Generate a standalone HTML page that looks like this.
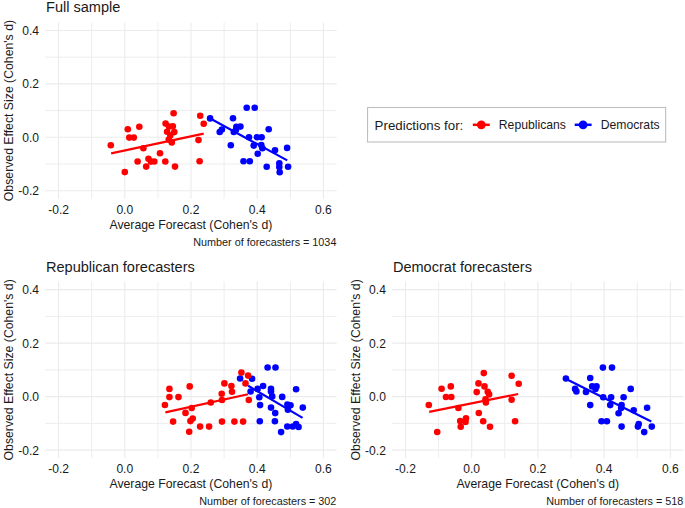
<!DOCTYPE html>
<html><head><meta charset="utf-8"><title>Forecast vs observed effect sizes</title><style>
html,body{margin:0;padding:0;background:#fff;width:685px;height:508px;overflow:hidden;}
svg{display:block;}
text{font-family:"Liberation Sans", sans-serif;fill:#1a1a1a;}
.g{stroke:#EBEBEB;stroke-width:1.1;}
.gm{stroke:#EBEBEB;stroke-width:0.9;}
.tk{font-size:12.1px;}
.at{font-size:12.26px;}
.tt{font-size:14.55px;}
.cp{font-size:10.8px;}
.lt{font-size:13.3px;}
.ll{font-size:12.2px;}
</style></head><body>
<svg width="685" height="508" viewBox="0 0 685 508">
<rect width="685" height="508" fill="#fff"/>
<line x1="45.20" x2="336.60" y1="163.98" y2="163.98" class="gm"/>
<line x1="45.20" x2="336.60" y1="110.56" y2="110.56" class="gm"/>
<line x1="45.20" x2="336.60" y1="57.14" y2="57.14" class="gm"/>
<line x1="91.69" x2="91.69" y1="22.43" y2="198.70" class="gm"/>
<line x1="157.91" x2="157.91" y1="22.43" y2="198.70" class="gm"/>
<line x1="224.12" x2="224.12" y1="22.43" y2="198.70" class="gm"/>
<line x1="290.33" x2="290.33" y1="22.43" y2="198.70" class="gm"/>
<line x1="45.20" x2="336.60" y1="190.69" y2="190.69" class="g"/>
<line x1="45.20" x2="336.60" y1="137.27" y2="137.27" class="g"/>
<line x1="45.20" x2="336.60" y1="83.85" y2="83.85" class="g"/>
<line x1="45.20" x2="336.60" y1="30.43" y2="30.43" class="g"/>
<line x1="58.59" x2="58.59" y1="22.43" y2="198.70" class="g"/>
<line x1="124.80" x2="124.80" y1="22.43" y2="198.70" class="g"/>
<line x1="191.01" x2="191.01" y1="22.43" y2="198.70" class="g"/>
<line x1="257.22" x2="257.22" y1="22.43" y2="198.70" class="g"/>
<line x1="323.44" x2="323.44" y1="22.43" y2="198.70" class="g"/>
<text x="39.00" y="34.93" class="tk" text-anchor="end">0.4</text>
<text x="39.00" y="88.35" class="tk" text-anchor="end">0.2</text>
<text x="39.00" y="141.77" class="tk" text-anchor="end">0.0</text>
<text x="39.00" y="195.19" class="tk" text-anchor="end">-0.2</text>
<text x="58.59" y="213.60" class="tk" text-anchor="middle">-0.2</text>
<text x="124.80" y="213.60" class="tk" text-anchor="middle">0.0</text>
<text x="191.01" y="213.60" class="tk" text-anchor="middle">0.2</text>
<text x="257.22" y="213.60" class="tk" text-anchor="middle">0.4</text>
<text x="323.44" y="213.60" class="tk" text-anchor="middle">0.6</text>
<text x="190.90" y="228.60" class="at" text-anchor="middle">Average Forecast (Cohen's d)</text>
<text transform="translate(12.60,110.56) rotate(-90)" class="at" text-anchor="middle">Observed Effect Size (Cohen's d)</text>
<text x="46.00" y="12.30" class="tt">Full sample</text>
<text x="336.40" y="245.60" class="cp" text-anchor="end">Number of forecasters = 1034</text>
<circle cx="210.1" cy="118.4" r="3.3" fill="#0000FF"/>
<circle cx="219.7" cy="132.0" r="3.3" fill="#0000FF"/>
<circle cx="221.9" cy="129.5" r="3.3" fill="#0000FF"/>
<circle cx="233.0" cy="118.2" r="3.3" fill="#0000FF"/>
<circle cx="236.4" cy="126.8" r="3.3" fill="#0000FF"/>
<circle cx="240.4" cy="126.6" r="3.3" fill="#0000FF"/>
<circle cx="233.8" cy="132.0" r="3.3" fill="#0000FF"/>
<circle cx="236.0" cy="129.8" r="3.3" fill="#0000FF"/>
<circle cx="230.8" cy="145.3" r="3.3" fill="#0000FF"/>
<circle cx="246.7" cy="107.8" r="3.3" fill="#0000FF"/>
<circle cx="254.7" cy="107.8" r="3.3" fill="#0000FF"/>
<circle cx="249.0" cy="137.2" r="3.3" fill="#0000FF"/>
<circle cx="256.9" cy="137.2" r="3.3" fill="#0000FF"/>
<circle cx="261.6" cy="137.2" r="3.3" fill="#0000FF"/>
<circle cx="253.7" cy="145.6" r="3.3" fill="#0000FF"/>
<circle cx="261.3" cy="145.1" r="3.3" fill="#0000FF"/>
<circle cx="262.4" cy="148.2" r="3.3" fill="#0000FF"/>
<circle cx="257.7" cy="153.7" r="3.3" fill="#0000FF"/>
<circle cx="268.7" cy="129.3" r="3.3" fill="#0000FF"/>
<circle cx="275.0" cy="150.3" r="3.3" fill="#0000FF"/>
<circle cx="287.1" cy="147.9" r="3.3" fill="#0000FF"/>
<circle cx="243.5" cy="161.3" r="3.3" fill="#0000FF"/>
<circle cx="249.8" cy="161.3" r="3.3" fill="#0000FF"/>
<circle cx="266.7" cy="166.7" r="3.3" fill="#0000FF"/>
<circle cx="279.3" cy="163.2" r="3.3" fill="#0000FF"/>
<circle cx="279.3" cy="167.1" r="3.3" fill="#0000FF"/>
<circle cx="279.7" cy="172.3" r="3.3" fill="#0000FF"/>
<circle cx="288.1" cy="166.7" r="3.3" fill="#0000FF"/>
<circle cx="110.8" cy="145.3" r="3.3" fill="#FF0000"/>
<circle cx="124.8" cy="172.1" r="3.3" fill="#FF0000"/>
<circle cx="127.8" cy="129.3" r="3.3" fill="#FF0000"/>
<circle cx="129.3" cy="137.6" r="3.3" fill="#FF0000"/>
<circle cx="133.8" cy="137.6" r="3.3" fill="#FF0000"/>
<circle cx="139.3" cy="126.7" r="3.3" fill="#FF0000"/>
<circle cx="137.6" cy="161.5" r="3.3" fill="#FF0000"/>
<circle cx="143.4" cy="148.2" r="3.3" fill="#FF0000"/>
<circle cx="146.2" cy="166.6" r="3.3" fill="#FF0000"/>
<circle cx="148.5" cy="158.7" r="3.3" fill="#FF0000"/>
<circle cx="150.9" cy="161.6" r="3.3" fill="#FF0000"/>
<circle cx="168.8" cy="139.6" r="3.3" fill="#FF0000"/>
<circle cx="154.3" cy="161.5" r="3.3" fill="#FF0000"/>
<circle cx="160.0" cy="153.3" r="3.3" fill="#FF0000"/>
<circle cx="165.3" cy="161.5" r="3.3" fill="#FF0000"/>
<circle cx="173.6" cy="113.2" r="3.3" fill="#FF0000"/>
<circle cx="165.6" cy="123.6" r="3.3" fill="#FF0000"/>
<circle cx="172.8" cy="126.2" r="3.3" fill="#FF0000"/>
<circle cx="169.0" cy="126.6" r="3.3" fill="#FF0000"/>
<circle cx="167.1" cy="131.7" r="3.3" fill="#FF0000"/>
<circle cx="174.3" cy="132.1" r="3.3" fill="#FF0000"/>
<circle cx="170.3" cy="135.4" r="3.3" fill="#FF0000"/>
<circle cx="171.8" cy="142.4" r="3.3" fill="#FF0000"/>
<circle cx="175.0" cy="166.6" r="3.3" fill="#FF0000"/>
<circle cx="200.2" cy="115.8" r="3.3" fill="#FF0000"/>
<circle cx="203.7" cy="123.8" r="3.3" fill="#FF0000"/>
<circle cx="198.5" cy="140.1" r="3.3" fill="#FF0000"/>
<circle cx="199.6" cy="161.2" r="3.3" fill="#FF0000"/>
<line x1="111.1" y1="153.3" x2="203.7" y2="133.7" stroke="#FF0000" stroke-width="2.2"/>
<line x1="210.3" y1="118.5" x2="287.2" y2="160.4" stroke="#0000FF" stroke-width="2.2"/>
<line x1="45.20" x2="336.60" y1="423.37" y2="423.37" class="gm"/>
<line x1="45.20" x2="336.60" y1="369.89" y2="369.89" class="gm"/>
<line x1="45.20" x2="336.60" y1="316.41" y2="316.41" class="gm"/>
<line x1="91.69" x2="91.69" y1="281.60" y2="458.10" class="gm"/>
<line x1="157.91" x2="157.91" y1="281.60" y2="458.10" class="gm"/>
<line x1="224.12" x2="224.12" y1="281.60" y2="458.10" class="gm"/>
<line x1="290.33" x2="290.33" y1="281.60" y2="458.10" class="gm"/>
<line x1="45.20" x2="336.60" y1="450.11" y2="450.11" class="g"/>
<line x1="45.20" x2="336.60" y1="396.63" y2="396.63" class="g"/>
<line x1="45.20" x2="336.60" y1="343.15" y2="343.15" class="g"/>
<line x1="45.20" x2="336.60" y1="289.67" y2="289.67" class="g"/>
<line x1="58.59" x2="58.59" y1="281.60" y2="458.10" class="g"/>
<line x1="124.80" x2="124.80" y1="281.60" y2="458.10" class="g"/>
<line x1="191.01" x2="191.01" y1="281.60" y2="458.10" class="g"/>
<line x1="257.22" x2="257.22" y1="281.60" y2="458.10" class="g"/>
<line x1="323.44" x2="323.44" y1="281.60" y2="458.10" class="g"/>
<text x="39.00" y="294.17" class="tk" text-anchor="end">0.4</text>
<text x="39.00" y="347.65" class="tk" text-anchor="end">0.2</text>
<text x="39.00" y="401.13" class="tk" text-anchor="end">0.0</text>
<text x="39.00" y="454.61" class="tk" text-anchor="end">-0.2</text>
<text x="58.59" y="473.00" class="tk" text-anchor="middle">-0.2</text>
<text x="124.80" y="473.00" class="tk" text-anchor="middle">0.0</text>
<text x="191.01" y="473.00" class="tk" text-anchor="middle">0.2</text>
<text x="257.22" y="473.00" class="tk" text-anchor="middle">0.4</text>
<text x="323.44" y="473.00" class="tk" text-anchor="middle">0.6</text>
<text x="190.90" y="487.96" class="at" text-anchor="middle">Average Forecast (Cohen's d)</text>
<text transform="translate(12.60,369.85) rotate(-90)" class="at" text-anchor="middle">Observed Effect Size (Cohen's d)</text>
<text x="46.00" y="272.30" class="tt">Republican forecasters</text>
<text x="336.40" y="504.96" class="cp" text-anchor="end">Number of forecasters = 302</text>
<circle cx="240.1" cy="378.5" r="3.3" fill="#0000FF"/>
<circle cx="252.1" cy="378.8" r="3.3" fill="#0000FF"/>
<circle cx="267.6" cy="367.5" r="3.3" fill="#0000FF"/>
<circle cx="275.5" cy="367.5" r="3.3" fill="#0000FF"/>
<circle cx="250.6" cy="391.5" r="3.3" fill="#0000FF"/>
<circle cx="257.6" cy="388.9" r="3.3" fill="#0000FF"/>
<circle cx="263.1" cy="386.0" r="3.3" fill="#0000FF"/>
<circle cx="259.3" cy="397.2" r="3.3" fill="#0000FF"/>
<circle cx="271.0" cy="388.9" r="3.3" fill="#0000FF"/>
<circle cx="271.0" cy="391.4" r="3.3" fill="#0000FF"/>
<circle cx="272.2" cy="396.4" r="3.3" fill="#0000FF"/>
<circle cx="282.2" cy="396.9" r="3.3" fill="#0000FF"/>
<circle cx="260.1" cy="405.1" r="3.3" fill="#0000FF"/>
<circle cx="271.0" cy="407.6" r="3.3" fill="#0000FF"/>
<circle cx="275.2" cy="413.1" r="3.3" fill="#0000FF"/>
<circle cx="287.4" cy="404.6" r="3.3" fill="#0000FF"/>
<circle cx="290.5" cy="405.2" r="3.3" fill="#0000FF"/>
<circle cx="287.9" cy="409.8" r="3.3" fill="#0000FF"/>
<circle cx="296.1" cy="389.2" r="3.3" fill="#0000FF"/>
<circle cx="302.8" cy="407.6" r="3.3" fill="#0000FF"/>
<circle cx="259.8" cy="421.2" r="3.3" fill="#0000FF"/>
<circle cx="274.9" cy="421.2" r="3.3" fill="#0000FF"/>
<circle cx="287.3" cy="426.5" r="3.3" fill="#0000FF"/>
<circle cx="292.8" cy="426.5" r="3.3" fill="#0000FF"/>
<circle cx="296.1" cy="424.0" r="3.3" fill="#0000FF"/>
<circle cx="298.6" cy="427.0" r="3.3" fill="#0000FF"/>
<circle cx="281.1" cy="432.1" r="3.3" fill="#0000FF"/>
<circle cx="169.4" cy="388.9" r="3.3" fill="#FF0000"/>
<circle cx="169.4" cy="397.1" r="3.3" fill="#FF0000"/>
<circle cx="178.5" cy="397.1" r="3.3" fill="#FF0000"/>
<circle cx="164.9" cy="405.0" r="3.3" fill="#FF0000"/>
<circle cx="189.7" cy="386.4" r="3.3" fill="#FF0000"/>
<circle cx="191.7" cy="408.0" r="3.3" fill="#FF0000"/>
<circle cx="185.5" cy="412.9" r="3.3" fill="#FF0000"/>
<circle cx="173.1" cy="421.6" r="3.3" fill="#FF0000"/>
<circle cx="192.7" cy="418.6" r="3.3" fill="#FF0000"/>
<circle cx="190.4" cy="421.1" r="3.3" fill="#FF0000"/>
<circle cx="189.2" cy="431.8" r="3.3" fill="#FF0000"/>
<circle cx="200.1" cy="426.6" r="3.3" fill="#FF0000"/>
<circle cx="209.1" cy="426.6" r="3.3" fill="#FF0000"/>
<circle cx="210.8" cy="402.5" r="3.3" fill="#FF0000"/>
<circle cx="221.7" cy="393.7" r="3.3" fill="#FF0000"/>
<circle cx="222.0" cy="400.0" r="3.3" fill="#FF0000"/>
<circle cx="224.4" cy="383.4" r="3.3" fill="#FF0000"/>
<circle cx="231.4" cy="386.0" r="3.3" fill="#FF0000"/>
<circle cx="232.0" cy="391.7" r="3.3" fill="#FF0000"/>
<circle cx="222.0" cy="421.6" r="3.3" fill="#FF0000"/>
<circle cx="234.4" cy="421.6" r="3.3" fill="#FF0000"/>
<circle cx="243.1" cy="421.6" r="3.3" fill="#FF0000"/>
<circle cx="241.4" cy="372.6" r="3.3" fill="#FF0000"/>
<circle cx="248.1" cy="375.6" r="3.3" fill="#FF0000"/>
<circle cx="245.5" cy="383.4" r="3.3" fill="#FF0000"/>
<circle cx="248.8" cy="400.0" r="3.3" fill="#FF0000"/>
<line x1="165.4" y1="412.4" x2="248.0" y2="394.3" stroke="#FF0000" stroke-width="2.2"/>
<line x1="248.2" y1="385.8" x2="302.6" y2="417.9" stroke="#0000FF" stroke-width="2.2"/>
<line x1="392.10" x2="683.50" y1="423.37" y2="423.37" class="gm"/>
<line x1="392.10" x2="683.50" y1="369.89" y2="369.89" class="gm"/>
<line x1="392.10" x2="683.50" y1="316.41" y2="316.41" class="gm"/>
<line x1="438.59" x2="438.59" y1="281.60" y2="458.10" class="gm"/>
<line x1="504.81" x2="504.81" y1="281.60" y2="458.10" class="gm"/>
<line x1="571.02" x2="571.02" y1="281.60" y2="458.10" class="gm"/>
<line x1="637.23" x2="637.23" y1="281.60" y2="458.10" class="gm"/>
<line x1="392.10" x2="683.50" y1="450.11" y2="450.11" class="g"/>
<line x1="392.10" x2="683.50" y1="396.63" y2="396.63" class="g"/>
<line x1="392.10" x2="683.50" y1="343.15" y2="343.15" class="g"/>
<line x1="392.10" x2="683.50" y1="289.67" y2="289.67" class="g"/>
<line x1="405.49" x2="405.49" y1="281.60" y2="458.10" class="g"/>
<line x1="471.70" x2="471.70" y1="281.60" y2="458.10" class="g"/>
<line x1="537.91" x2="537.91" y1="281.60" y2="458.10" class="g"/>
<line x1="604.12" x2="604.12" y1="281.60" y2="458.10" class="g"/>
<line x1="670.34" x2="670.34" y1="281.60" y2="458.10" class="g"/>
<text x="385.90" y="294.17" class="tk" text-anchor="end">0.4</text>
<text x="385.90" y="347.65" class="tk" text-anchor="end">0.2</text>
<text x="385.90" y="401.13" class="tk" text-anchor="end">0.0</text>
<text x="385.90" y="454.61" class="tk" text-anchor="end">-0.2</text>
<text x="405.49" y="473.00" class="tk" text-anchor="middle">-0.2</text>
<text x="471.70" y="473.00" class="tk" text-anchor="middle">0.0</text>
<text x="537.91" y="473.00" class="tk" text-anchor="middle">0.2</text>
<text x="604.12" y="473.00" class="tk" text-anchor="middle">0.4</text>
<text x="670.34" y="473.00" class="tk" text-anchor="middle">0.6</text>
<text x="537.80" y="487.96" class="at" text-anchor="middle">Average Forecast (Cohen's d)</text>
<text transform="translate(359.50,369.85) rotate(-90)" class="at" text-anchor="middle">Observed Effect Size (Cohen's d)</text>
<text x="392.90" y="272.30" class="tt">Democrat forecasters</text>
<text x="683.30" y="504.96" class="cp" text-anchor="end">Number of forecasters = 518</text>
<circle cx="565.9" cy="378.5" r="3.3" fill="#0000FF"/>
<circle cx="575.1" cy="388.9" r="3.3" fill="#0000FF"/>
<circle cx="576.4" cy="391.4" r="3.3" fill="#0000FF"/>
<circle cx="586.0" cy="391.9" r="3.3" fill="#0000FF"/>
<circle cx="590.2" cy="378.0" r="3.3" fill="#0000FF"/>
<circle cx="592.2" cy="386.4" r="3.3" fill="#0000FF"/>
<circle cx="596.5" cy="386.4" r="3.3" fill="#0000FF"/>
<circle cx="595.5" cy="388.9" r="3.3" fill="#0000FF"/>
<circle cx="590.2" cy="405.1" r="3.3" fill="#0000FF"/>
<circle cx="602.9" cy="367.6" r="3.3" fill="#0000FF"/>
<circle cx="612.0" cy="367.6" r="3.3" fill="#0000FF"/>
<circle cx="603.2" cy="397.3" r="3.3" fill="#0000FF"/>
<circle cx="611.1" cy="397.3" r="3.3" fill="#0000FF"/>
<circle cx="623.6" cy="397.3" r="3.3" fill="#0000FF"/>
<circle cx="610.2" cy="405.1" r="3.3" fill="#0000FF"/>
<circle cx="621.6" cy="405.1" r="3.3" fill="#0000FF"/>
<circle cx="621.1" cy="408.1" r="3.3" fill="#0000FF"/>
<circle cx="618.6" cy="413.2" r="3.3" fill="#0000FF"/>
<circle cx="630.7" cy="388.9" r="3.3" fill="#0000FF"/>
<circle cx="633.7" cy="410.3" r="3.3" fill="#0000FF"/>
<circle cx="647.1" cy="407.8" r="3.3" fill="#0000FF"/>
<circle cx="601.5" cy="421.2" r="3.3" fill="#0000FF"/>
<circle cx="606.9" cy="421.2" r="3.3" fill="#0000FF"/>
<circle cx="621.6" cy="426.6" r="3.3" fill="#0000FF"/>
<circle cx="638.7" cy="424.0" r="3.3" fill="#0000FF"/>
<circle cx="637.9" cy="426.6" r="3.3" fill="#0000FF"/>
<circle cx="644.2" cy="432.1" r="3.3" fill="#0000FF"/>
<circle cx="651.8" cy="426.6" r="3.3" fill="#0000FF"/>
<circle cx="428.8" cy="405.0" r="3.3" fill="#FF0000"/>
<circle cx="437.2" cy="432.0" r="3.3" fill="#FF0000"/>
<circle cx="441.6" cy="388.7" r="3.3" fill="#FF0000"/>
<circle cx="450.8" cy="386.4" r="3.3" fill="#FF0000"/>
<circle cx="446.0" cy="397.0" r="3.3" fill="#FF0000"/>
<circle cx="451.3" cy="397.0" r="3.3" fill="#FF0000"/>
<circle cx="458.4" cy="408.0" r="3.3" fill="#FF0000"/>
<circle cx="460.2" cy="421.0" r="3.3" fill="#FF0000"/>
<circle cx="466.0" cy="418.3" r="3.3" fill="#FF0000"/>
<circle cx="465.5" cy="421.9" r="3.3" fill="#FF0000"/>
<circle cx="460.7" cy="426.7" r="3.3" fill="#FF0000"/>
<circle cx="478.8" cy="413.0" r="3.3" fill="#FF0000"/>
<circle cx="483.2" cy="421.3" r="3.3" fill="#FF0000"/>
<circle cx="490.0" cy="426.7" r="3.3" fill="#FF0000"/>
<circle cx="483.8" cy="373.1" r="3.3" fill="#FF0000"/>
<circle cx="478.5" cy="383.4" r="3.3" fill="#FF0000"/>
<circle cx="484.5" cy="386.4" r="3.3" fill="#FF0000"/>
<circle cx="476.7" cy="392.1" r="3.3" fill="#FF0000"/>
<circle cx="487.7" cy="391.7" r="3.3" fill="#FF0000"/>
<circle cx="489.1" cy="394.4" r="3.3" fill="#FF0000"/>
<circle cx="485.5" cy="399.4" r="3.3" fill="#FF0000"/>
<circle cx="485.9" cy="402.4" r="3.3" fill="#FF0000"/>
<circle cx="511.6" cy="375.8" r="3.3" fill="#FF0000"/>
<circle cx="518.7" cy="383.8" r="3.3" fill="#FF0000"/>
<circle cx="511.6" cy="399.7" r="3.3" fill="#FF0000"/>
<circle cx="515.1" cy="421.3" r="3.3" fill="#FF0000"/>
<line x1="429.2" y1="411.8" x2="518.2" y2="394.0" stroke="#FF0000" stroke-width="2.2"/>
<line x1="567.6" y1="379.7" x2="651.3" y2="421.5" stroke="#0000FF" stroke-width="2.2"/>
<rect x="367.55" y="107.5" width="298.1" height="34.5" fill="#fff" stroke="#BEBEBE" stroke-width="1.1"/>
<text x="374.6" y="129.6" class="lt">Predictions for:</text>
<line x1="472.8" x2="489.8" y1="124.8" y2="124.8" stroke="#FF0000" stroke-width="2.5"/>
<circle cx="481.3" cy="124.8" r="4.4" fill="#FF0000"/>
<text x="498.8" y="129.2" class="ll">Republicans</text>
<line x1="574.7" x2="591.6" y1="124.8" y2="124.8" stroke="#0000FF" stroke-width="2.5"/>
<circle cx="583.1" cy="124.8" r="4.4" fill="#0000FF"/>
<text x="600.7" y="129.2" class="ll">Democrats</text>
</svg>
</body></html>
